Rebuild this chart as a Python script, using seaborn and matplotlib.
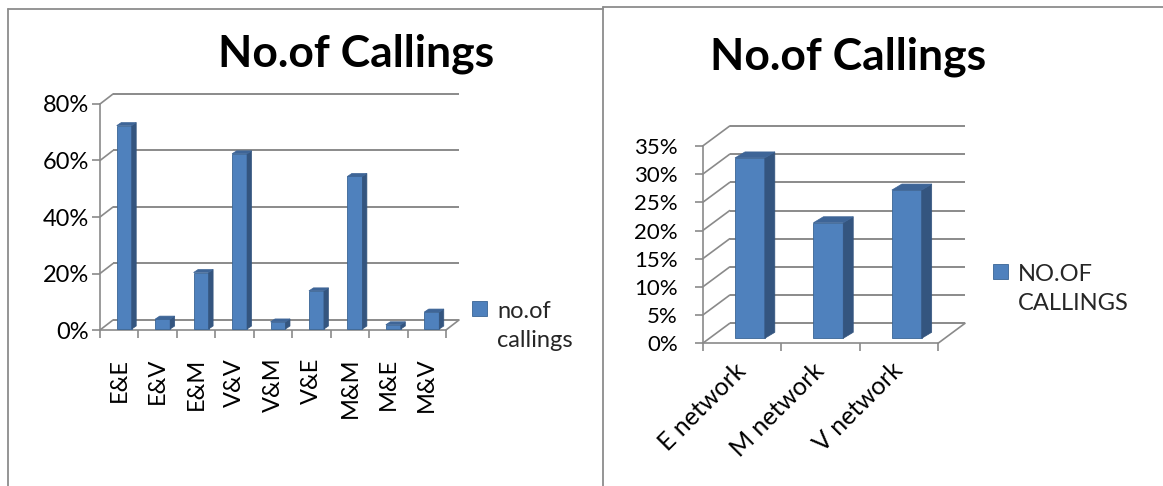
import numpy as np
import pandas as pd
import matplotlib
matplotlib.use("Agg")
import matplotlib.pyplot as plt
import seaborn as sns
from matplotlib.patches import Polygon
from matplotlib.lines import Line2D
from matplotlib.ticker import FixedLocator, PercentFormatter

# Share of calls by caller & receiver network
pair_labels = ["E&E", "E&V", "E&M", "V&V", "V&M", "V&E", "M&M", "M&E", "M&V"]
pair_share = [72, 3.5, 20, 62, 2.5, 13.5, 54, 1.5, 6]

# Share of calls by network
network_labels = ["E network", "M network", "V network"]
network_share = [32, 20.5, 26.3]

W, H, DPI = 1163, 486, 100
FRONT = "#4F81BD"
SIDE = "#34557F"
TOP = "#3E6597"
GRID = "#8A8A8A"

sns.set_theme(style="white")
plt.rcParams["font.family"] = ["Lato", "DejaVu Sans"]

fig = plt.figure(figsize=(W / DPI, H / DPI), dpi=DPI)


def axes_px(x0, x1, y_top, y_base):
    """Axes whose front plane spans the given pixel box (y measured from top)."""
    return fig.add_axes([x0 / W, 1 - y_base / H, (x1 - x0) / W, (y_base - y_top) / H])


def dress_3d(ax, n, ymax, step, wall, shift, depth, ysize, ypad):
    ax.set_xlim(-0.5, n - 0.5)
    ax.set_ylim(0, ymax)
    T = ax.transData
    inv = T.inverted()
    wall = np.array(wall, float)
    shift = np.array(shift, float)
    depth = np.array(depth, float)

    # back wall gridlines + receding edges of the side wall
    for v in np.arange(0, ymax + 1e-9, step):
        a = T.transform((-0.5, v))
        b = T.transform((n - 0.5, v))
        back = inv.transform([a + wall, b + wall])
        ax.plot(back[:, 0], back[:, 1], color=GRID, lw=1.4, zorder=0.5,
                clip_on=False, solid_capstyle="butt")
        diag = inv.transform([a, a + wall])
        ax.plot(diag[:, 0], diag[:, 1], color=GRID, lw=1.2, zorder=0.5, clip_on=False)
    # right edge of the floor
    b = T.transform((n - 0.5, 0))
    diag = inv.transform([b, b + wall])
    ax.plot(diag[:, 0], diag[:, 1], color=GRID, lw=1.2, zorder=0.5, clip_on=False)

    # extrude each bar into a block
    for p in list(ax.patches):
        x, y, w, h = p.get_x(), p.get_y(), p.get_width(), p.get_height()
        bl = T.transform((x, y)) + shift
        tr = T.transform((x + w, y + h)) + shift
        br = np.array([tr[0], bl[1]])
        tl = np.array([bl[0], tr[1]])
        nbl = inv.transform(bl)
        p.set_x(nbl[0])
        p.set_y(nbl[1])
        p.set_zorder(3)
        side = inv.transform([br, tr, tr + depth, br + depth])
        top = inv.transform([tl, tr, tr + depth, tl + depth])
        ax.add_patch(Polygon(side, closed=True, facecolor=SIDE, edgecolor=SIDE,
                             lw=0.5, zorder=3, clip_on=False))
        ax.add_patch(Polygon(top, closed=True, facecolor=TOP, edgecolor=TOP,
                             lw=0.5, zorder=3, clip_on=False))

    for s in ("top", "right"):
        ax.spines[s].set_visible(False)
    for s in ("left", "bottom"):
        ax.spines[s].set_color(GRID)
        ax.spines[s].set_linewidth(1.2)
    ax.yaxis.set_major_locator(FixedLocator(np.arange(0, ymax + 1e-9, step)))
    ax.yaxis.set_major_formatter(PercentFormatter(100, decimals=0))
    ax.xaxis.set_minor_locator(FixedLocator(np.arange(-0.5, n, 1.0)))
    ax.tick_params(axis="y", which="major", direction="out", length=6, width=1.2,
                   color=GRID, pad=ypad, labelsize=ysize, left=True, labelcolor="black")
    ax.tick_params(axis="x", which="minor", direction="out", length=6, width=1.2,
                   color=GRID, bottom=True)
    ax.set_xlabel("")
    ax.set_ylabel("")
    ax.grid(False)


def side_legend(ax, x_px, y_px):
    leg = ax.legend(loc="upper left", bbox_to_anchor=(x_px / W, 1 - y_px / H),
                    bbox_transform=fig.transFigure, frameon=False, fontsize=17,
                    handlelength=0.62, handleheight=0.62, handletextpad=0.45,
                    borderpad=0, borderaxespad=0)
    for t in leg.get_texts():
        t.set_linespacing(1.45)
    # keep the swatch level with the first line of a two-line label
    for column in leg._legend_handle_box.get_children():
        for row in column.get_children():
            row.align = "top"
    return leg


# ---- left chart: calls by network pair ----
df_pair = pd.DataFrame({"pair": pair_labels, "share": pair_share})
ax1 = axes_px(100, 446, 104, 330)
sns.barplot(data=df_pair, x="pair", y="share", ax=ax1, color=FRONT, width=0.39,
            saturation=1, label="no.of\ncallings", edgecolor="#3A6595", linewidth=0.6)
dress_3d(ax1, len(pair_labels), 80, 20, wall=(13, 10), shift=(5, 1), depth=(4.5, 3),
         ysize=17, ypad=2)
ax1.tick_params(axis="x", which="major", length=0, pad=20, labelsize=17,
                labelrotation=90, labelcolor="black")
for t in ax1.get_xticklabels():
    t.set_va("top")
    t.set_ha("center")
side_legend(ax1, 472, 301)

# ---- right chart: calls by network ----
df_net = pd.DataFrame({"network": network_labels, "share": network_share})
ax2 = axes_px(702.7, 938, 146, 343.3)
sns.barplot(data=df_net, x="network", y="share", ax=ax2, color=FRONT, width=0.38,
            saturation=1, label="NO.OF\nCALLINGS", edgecolor="#3A6595", linewidth=0.6)
dress_3d(ax2, len(network_labels), 35, 5, wall=(27, 20), shift=(8, 5), depth=(10, 6),
         ysize=16, ypad=12)
ax2.tick_params(axis="x", which="major", length=0, pad=17, labelsize=18,
                labelcolor="black")
for t in ax2.get_xticklabels():
    t.set_rotation(45)
    t.set_ha("right")
    t.set_va("center")
    t.set_rotation_mode("anchor")
side_legend(ax2, 993, 264)

# ---- titles ----
fig.text(356 / W, 1 - 54 / H, "No.of Callings", ha="center", va="center",
         fontsize=32, fontweight="bold", color="black")
fig.text(848 / W, 1 - 57 / H, "No.of Callings", ha="center", va="center",
         fontsize=32, fontweight="bold", color="black")

# ---- chart area borders ----
BORDER = "#8C8C8C"
for xs, ys in [
    ([8, 8], [H, 8.7]),
    ([8, 603], [8.7, 8.7]),
    ([603, 603], [H, 6.7]),
    ([603, W], [6.7, 6.7]),
]:
    fig.add_artist(Line2D([x / W for x in xs], [1 - y / H for y in ys],
                          transform=fig.transFigure, color=BORDER, lw=1.3))

fig.savefig("out.png", dpi=DPI, facecolor="white")
